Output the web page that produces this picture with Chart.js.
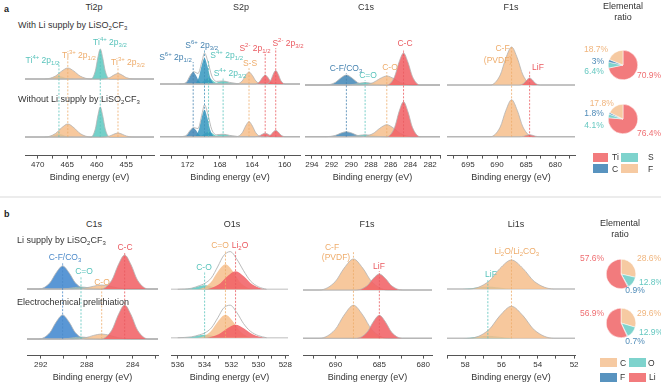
<!DOCTYPE html>
<html>
<head>
<meta charset="utf-8">
<script src="https://cdn.jsdelivr.net/npm/chart.js@4.4.1/dist/chart.umd.min.js"></script>
<style>
  body { margin: 0; width: 661px; height: 384px; position: relative; overflow: hidden; background: #fff;
         font-family: "Liberation Sans", Arial, sans-serif; color: #333; }
  canvas { position: absolute; }
  .tx { position: absolute; white-space: nowrap; line-height: 1; }
  .tx sub, .tx sup { font-size: 6px; line-height: 0; }
  .box { position: absolute; }
  .sep { position: absolute; left: 0; top: 196px; width: 661px; height: 2px; background: #ececec; }
</style>
</head>
<body>
<div class="sep"></div>
<script>
// ---------------- data (binding energy in eV, intensity in arbitrary counts) ----------------
// a: with / without Li supply by LiSO2CF3
const ti2pRange = [450.3, 472.15];
const ti2pPeaks = ['Ti4+ 2p1/2', 'Ti3+ 2p1/2', 'Ti4+ 2p3/2', 'Ti3+ 2p3/2'];
const ti2pEnergy = [
  [469.0, 467.8, 467.1, 466.4, 465.7, 465.0, 463.8],
  [468.8, 467.0, 465.95, 464.9, 463.85, 462.8, 461.0],
  [460.96, 460.24, 459.82, 459.4, 458.98, 458.56, 457.84],
  [459.0, 457.8, 457.1, 456.4, 455.7, 455.0, 453.8]
];
const ti2pWith = [[0,0.8,2.1,3,2.1,0.8,0],[0,2.9,7.8,11,7.8,2.9,0],[0,8,21,30,21,8,0],[0,1.4,3.9,5.5,3.9,1.4,0]];
const ti2pWithout = [[0,0.8,2.1,3,2.1,0.8,0],[0,3.4,9.2,13,9.2,3.4,0],[0,8,21,30,21,8,0],[0,1,2.8,4,2.8,1,0]];

const s2pRange = [158.1, 175.4];
const s2pPeaks = ['S4+ 2p1/2', 'S4+ 2p3/2', 'S6+ 2p1/2', 'S6+ 2p3/2', 'S-S', 'S2- 2p1/2', 'S2- 2p3/2'];
const s2pEnergy = [
  [170.96, 170.24, 169.82, 169.4, 168.98, 168.56, 167.84],
  [169.68, 168.72, 168.16, 167.6, 167.04, 166.48, 165.52],
  [172.6, 172.0, 171.65, 171.3, 170.95, 170.6, 170.0],
  [171.2, 170.6, 170.25, 169.9, 169.55, 169.2, 168.6],
  [165.96, 165.24, 164.82, 164.4, 163.98, 163.56, 162.84],
  [163.7, 163.1, 162.75, 162.4, 162.05, 161.7, 161.1],
  [162.27, 161.73, 161.42, 161.1, 160.78, 160.47, 159.93]
];
const s2pWith = [[0,1.6,4.3,6,4.3,1.6,0],[0,0.8,2.1,3,2.1,0.8,0],[0,3.1,8.5,12,8.5,3.1,0],[0,6.8,18.5,26,18.5,6.8,0],
                 [0,3.1,8.5,12,8.5,3.1,0],[0,2.3,6.4,9,6.4,2.3,0],[0,3.5,9.6,13.5,9.6,3.5,0]];
const s2pWithout = [[0,1.3,3.6,5,3.6,1.3,0],[0,0.7,1.8,2.5,1.8,0.7,0],[0,2.3,6.4,9,6.4,2.3,0],[0,7,19.2,27,19.2,7,0],
                    [0,3.9,10.7,15,10.7,3.9,0],[0,0.9,2.5,3.5,2.5,0.9,0],[0,1.7,4.6,6.5,4.6,1.7,0]];
const s2pEnvE = [173.0, 172.2, 171.6, 171.2, 170.7, 170.2, 169.9, 169.5, 169.0, 168.4, 167.6, 166.8, 165.6];
const s2pEnvWith = [0, 1.2, 9.4, 12.2, 10.5, 23, 31, 23, 8, 2.6, 3, 1.6, 0];
const s2pEnvWithout = [0, 1, 7, 9, 8.1, 23, 32, 23, 7, 2, 2.5, 1.3, 0];

const c1sARange = [281, 294.7];
const c1sAPeaks = ['C-F/CO3', 'C=O', 'C-O', 'C-C'];
const c1sAEnergy = [
  [292.58, 291.62, 291.06, 290.5, 289.94, 289.38, 288.42],
  [290.68, 289.72, 289.16, 288.6, 288.04, 287.48, 286.52],
  [289.0, 287.8, 287.1, 286.4, 285.7, 285.0, 283.8],
  [286.39, 285.61, 285.16, 284.7, 284.25, 283.79, 283.01]
];
const c1sAWith = [[0,2.6,7.1,10,7.1,2.6,0],[0,0.7,1.8,2.5,1.8,0.7,0],[0,2.3,6.4,9,6.4,2.3,0],[0,8.3,22.7,32,22.7,8.3,0]];
const c1sAWithout = [[0,1.3,3.6,5,3.6,1.3,0],[0,0.5,1.4,2,1.4,0.5,0],[0,3.1,8.5,12,8.5,3.1,0],[0,9.1,24.9,35,24.9,9.1,0]];

const f1sARange = [676.6, 698.6];
const f1sAPeaks = ['C-F (PVDF)', 'LiF'];
const f1sAEnergy = [
  [691.14, 689.46, 688.48, 687.5, 686.52, 685.54, 683.86],
  [686.22, 685.38, 684.89, 684.4, 683.91, 683.42, 682.58]
];
const f1sAWith = [[0,9.9,27,38,27,9.9,0],[0,1.8,5,7,5,1.8,0]];
const f1sAWithout = [[0,9.6,26.3,37,26.3,9.6,0],[0,0.5,1.4,2,1.4,0.5,0]];

const pieAElements = ['Ti', 'S', 'C', 'F'];
const pieAWith = [70.9, 6.4, 3, 18.7];
const pieAWithout = [76.4, 4.1, 1.8, 17.8];

// b: Li supply by LiSO2CF3 / electrochemical prelithiation
const c1sBRange = [281.8, 293.2];
const c1sBPeaks = ['C-F/CO3', 'C=O', 'C-O', 'C-C'];
const c1sBEnergy = [
  [292.18, 291.22, 290.66, 290.1, 289.54, 288.98, 288.02],
  [290.58, 289.62, 289.06, 288.5, 287.94, 287.38, 286.42],
  [289.3, 288.1, 287.4, 286.7, 286.0, 285.3, 284.1],
  [286.78, 285.82, 285.26, 284.7, 284.14, 283.58, 282.62]
];
const c1sBSupply = [[0,6,16.3,23,16.3,6,0],[0,0.5,1.4,2,1.4,0.5,0],[0,1,2.8,4,2.8,1,0],[0,8.8,24.1,34,24.1,8.8,0]];
const c1sBEchem = [[0,6.2,17,24,17,6.2,0],[0,0.5,1.4,2,1.4,0.5,0],[0,1.3,3.6,5,3.6,1.3,0],[0,8.8,24.1,34,24.1,8.8,0]];

const o1sRange = [527.8, 536.5];
const o1sPeaks = ['C-O', 'C=O', 'Li2O'];
const o1sEnergy = [
  [535.82, 534.98, 534.49, 534.0, 533.51, 533.02, 532.18],
  [534.53, 533.57, 533.01, 532.45, 531.89, 531.33, 530.37],
  [534.04, 532.96, 532.33, 531.7, 531.07, 530.44, 529.36]
];
const o1sSupply = [[0,1,2.8,4,2.8,1,0],[0,6.5,17.8,25,17.8,6.5,0],[0,4.7,12.8,18,12.8,4.7,0]];
const o1sEchem = [[0,0.8,2.1,3,2.1,0.8,0],[0,6,16.3,23,16.3,6,0],[0,3.4,9.2,13,9.2,3.4,0]];
const o1sEnvE = [536.0, 535.0, 534.4, 534.0, 533.5, 533.0, 532.6, 532.1, 531.6, 531.1, 530.6, 530.0, 529.4];
const o1sEnvSupply = [0, 1, 3.6, 5.8, 11.4, 23.3, 33.4, 37.7, 30, 18.5, 8.5, 2.5, 0];
const o1sEnvEchem = [0, 0.8, 2.8, 4.7, 9.8, 20.4, 29.5, 32.5, 25, 14, 6.5, 2, 0];

const f1sBRange = [679, 693.7];
const f1sBPeaks = ['C-F (PVDF)', 'LiF'];
const f1sBEnergy = [
  [691.85, 690.05, 689.0, 687.95, 686.9, 685.85, 684.05],
  [687.6, 686.4, 685.7, 685.0, 684.3, 683.6, 682.4]
];
const f1sBSupply = [[0,8.1,22,31,22,8.1,0],[0,4.2,11.4,16,11.4,4.2,0]];
const f1sBEchem = [[0,8.6,23.4,33,23.4,8.6,0],[0,6,16.3,23,16.3,6,0]];

const li1sRange = [51.95, 59];
const li1sPeaks = ['LiF', 'Li2O/Li2CO3'];
const li1sEnergy = [
  [58.57, 57.73, 57.24, 56.75, 56.26, 55.77, 54.93],
  [57.79, 56.71, 56.08, 55.45, 54.82, 54.19, 53.11]
];
const li1sSupply = [[0,0.6,1.8,2.5,1.8,0.6,0],[0,7.5,20.6,29,20.6,7.5,0]];
const li1sEchem = [[0,0.6,1.8,2.5,1.8,0.6,0],[0,8.3,22.7,32,22.7,8.3,0]];

const pieBElements = ['C', 'O', 'F', 'Li'];
const pieBSupply = [28.6, 12.8, 0.9, 57.6];
const pieBEchem = [29.6, 12.9, 0.7, 56.9];

// ---------------- styles ----------------
Chart.defaults.font.family = '"Liberation Sans", Arial, sans-serif';
Chart.defaults.color = '#333';

const FILL = { teal: 'rgba(92,200,192,0.85)', orange: 'rgba(246,190,140,0.85)', red: 'rgba(241,98,102,0.88)',
               blue: 'rgba(70,138,184,0.88)', blueS: 'rgba(52,150,190,0.85)', blueB: 'rgba(72,140,208,0.9)' };
const LINE = { teal: '#58c3bb', orange: '#eeac6b', red: '#ea5a60', blue: '#4683b0', blueS: '#3d8fb8', blueB: '#4b89c9' };
const GRAY = '#b3b3b3';

function spectrum(p) {
  const cv = document.createElement('canvas');
  cv.width = p.w; cv.height = p.h;
  cv.style.left = p.left + 'px'; cv.style.top = p.y + 'px';
  document.body.appendChild(cv);
  const [xmin, xmax] = p.range;
  const ds = [];
  [[p.offTop, p.upper, p.envUpper], [p.offBot, p.lower, p.envLower]].forEach(([off, H, env]) => {
    ds.push({ data: [{x: xmax, y: off}, {x: xmin, y: off}], borderColor: '#d3d3d3', borderWidth: 1.6, fill: false, order: 100 });
    p.energy.forEach((E, i) => {
      const pts = [{x: xmax, y: off}];
      E.forEach((e, k) => pts.push({x: e, y: off + H[i][k]}));
      pts.push({x: xmin, y: off});
      ds.push({ data: pts, fill: {value: off}, backgroundColor: FILL[p.colors[i]],
                borderColor: p.outline[i] ? GRAY : 'rgba(0,0,0,0)', borderWidth: p.outline[i] ? 0.8 : 0, order: 60 - i });
    });
    if (env) ds.push({ data: p.envE.map((e, k) => ({x: e, y: off + env[k]})), borderColor: GRAY, borderWidth: 0.9, fill: false, order: 20 });
  });
  p.energy.forEach((E, i) => {
    ds.push({ data: [{x: E[3], y: p.offBot}, {x: E[3], y: p.dash[i]}], borderColor: LINE[p.colors[i]],
              borderWidth: 0.8, borderDash: [2, 1.5], fill: false, order: 5 });
  });
  new Chart(cv, {
    type: 'line',
    data: { datasets: ds },
    options: {
      responsive: false, animation: false, devicePixelRatio: 1, events: [],
      layout: { padding: { left: 10, right: 10, top: 0, bottom: 0 } },
      elements: { point: { radius: 0 }, line: { cubicInterpolationMode: 'monotone' } },
      plugins: { legend: { display: false }, tooltip: { enabled: false } },
      scales: {
        x: {
          type: 'linear', reverse: true, min: xmin, max: xmax,
          border: { display: true, color: '#555', width: 1 },
          grid: { drawOnChartArea: false, drawTicks: true, tickLength: 3, color: '#555' },
          ticks: { stepSize: p.step, includeBounds: false, autoSkip: false, maxRotation: 0, padding: 1.5,
                   font: { size: 8 }, color: '#333',
                   callback: v => Math.abs(v / p.major - Math.round(v / p.major)) < 1e-6 ? String(v) : '' },
          title: { display: true, text: 'Binding energy (eV)', font: { size: 9 }, color: '#333', padding: { top: 1, bottom: 1 } }
        },
        y: { display: false, min: 0, max: p.h - 28.4 }
      }
    }
  });
}

const panels = [
  { range: ti2pRange, energy: ti2pEnergy, upper: ti2pWith, lower: ti2pWithout,
    colors: ['teal', 'orange', 'teal', 'orange'], outline: [false, true, true, true],
    left: 15, y: 34, w: 149, h: 150, offTop: 76.6, offBot: 18.6, step: 2.5, major: 5, dash: [93.6, 98.6, 106.6, 89.6] },
  { range: s2pRange, energy: s2pEnergy, upper: s2pWith, lower: s2pWithout,
    envE: s2pEnvE, envUpper: s2pEnvWith, envLower: s2pEnvWithout,
    colors: ['teal', 'teal', 'blue', 'blueS', 'orange', 'red', 'red'], outline: [false, false, false, false, true, true, true],
    left: 150, y: 34, w: 160, h: 150, offTop: 71.6, offBot: 18.9, step: 2, major: 4, dash: [95.6, 78.6, 93.6, 105.6, 87.6, 103.6, 107.6] },
  { range: c1sARange, energy: c1sAEnergy, upper: c1sAWith, lower: c1sAWithout,
    colors: ['blue', 'teal', 'orange', 'red'], outline: [true, true, true, true],
    left: 295, y: 34, w: 155, h: 150, offTop: 70.6, offBot: 18.9, step: 1, major: 2, dash: [82.6, 75.6, 83.6, 106.6] },
  { range: f1sARange, energy: f1sAEnergy, upper: f1sAWith, lower: f1sAWithout,
    colors: ['orange', 'red'], outline: [true, true],
    left: 437, y: 34, w: 148, h: 150, offTop: 70.6, offBot: 18.9, step: 2.5, major: 5, dash: [108.6, 84.6] },
  { range: c1sBRange, energy: c1sBEnergy, upper: c1sBSupply, lower: c1sBEchem,
    colors: ['blueB', 'teal', 'orange', 'red'], outline: [true, true, true, true],
    left: 17, y: 240, w: 151, h: 144, offTop: 66.6, offBot: 16.6, step: 2, major: 4, dash: [93.6, 79.6, 69.6, 103.6] },
  { range: o1sRange, energy: o1sEnergy, upper: o1sSupply, lower: o1sEchem,
    envE: o1sEnvE, envUpper: o1sEnvSupply, envLower: o1sEnvEchem,
    colors: ['teal', 'orange', 'red'], outline: [false, false, false],
    left: 161, y: 240, w: 137, h: 144, offTop: 66.3, offBot: 17.9, step: 1, major: 2, dash: [84.6, 105.6, 105.6] },
  { range: f1sBRange, energy: f1sBEnergy, upper: f1sBSupply, lower: f1sBEchem,
    colors: ['orange', 'red'], outline: [true, true],
    left: 293, y: 240, w: 149, h: 144, offTop: 65.6, offBot: 17.3, step: 2.5, major: 5, dash: [103.6, 84.6] },
  { range: li1sRange, energy: li1sEnergy, upper: li1sSupply, lower: li1sEchem,
    colors: ['teal', 'orange'], outline: [false, true],
    left: 437, y: 240, w: 148, h: 144, offTop: 66.6, offBot: 17.3, step: 1, major: 2, dash: [76.6, 100.6] }
];
panels.forEach(spectrum);

// ---------------- pies ----------------
const pieAColors = ['#f27b7d', '#7ed3cd', '#5893bf', '#f6caa2'];
const pieBColors = ['#f6caa2', '#7ed3cd', '#5893bf', '#f27b7d'];
const PIE_TXT = { red: '#ef6f72', teal: '#66c8c1', blue: '#4f8bb8', orange: '#f0b57e' };

function pie(values, colors, labels, cx, cy) {
  const cv = document.createElement('canvas');
  cv.width = 30; cv.height = 30;
  cv.style.left = (cx - 15) + 'px'; cv.style.top = (cy - 15) + 'px';
  document.body.appendChild(cv);
  new Chart(cv, {
    type: 'pie',
    data: { labels: labels, datasets: [{ data: values, backgroundColor: colors, borderColor: '#fff', borderWidth: 0.5 }] },
    options: { responsive: false, animation: false, devicePixelRatio: 1, events: [],
               plugins: { legend: { display: false }, tooltip: { enabled: false } } }
  });
}
pie(pieAWith, pieAColors, pieAElements, 622.5, 64.5);
pie(pieAWithout, pieAColors, pieAElements, 622.5, 119);
pie(pieBSupply, pieBColors, pieBElements, 621.3, 274.2);
pie(pieBEchem, pieBColors, pieBElements, 621.3, 322.5);

// ---------------- text ----------------
function put(html, x, y, color, size, left, bold) {
  const d = document.createElement('div');
  d.className = 'tx';
  d.innerHTML = html;
  d.style.left = x + 'px'; d.style.top = y + 'px';
  d.style.color = color; d.style.fontSize = size + 'px';
  if (bold) d.style.fontWeight = 'bold';
  d.style.transform = left ? 'translate(0,-50%)' : 'translate(-50%,-50%)';
  document.body.appendChild(d);
}
const D = '#333';
put('a', 4, 9, '#222', 9, true, true);
put('b', 4, 214, '#222', 9, true, true);
[['Ti2p', 94, 7], ['S2p', 241, 7], ['C1s', 366, 7], ['F1s', 511, 7], ['Elemental', 623, 6], ['ratio', 623, 17],
 ['C1s', 94, 224], ['O1s', 232, 224], ['F1s', 367, 224], ['Li1s', 516, 224], ['Elemental', 620, 222.5], ['ratio', 620, 233.5]]
  .forEach(t => put(t[0], t[1], t[2], D, 9));
put('With Li supply by LiSO<sub>2</sub>CF<sub>3</sub>', 18, 25, D, 9, true);
put('Without Li supply by LiSO<sub>2</sub>CF<sub>3</sub>', 18, 99, D, 9, true);
put('Li supply by LiSO<sub>2</sub>CF<sub>3</sub>', 17, 240, D, 9, true);
put('Electrochemical prelithiation', 17, 302, D, 9, true);

const peakLabels = [
  ['Ti<sup>4+</sup> 2p<sub>1/2</sub>', 42.5, 60, 'teal'], ['Ti<sup>3+</sup> 2p<sub>1/2</sub>', 79, 55, 'orange'],
  ['Ti<sup>4+</sup> 2p<sub>3/2</sub>', 110, 42, 'teal'], ['Ti<sup>3+</sup> 2p<sub>3/2</sub>', 128, 62, 'orange'],
  ['S<sup>6+</sup> 2p<sub>3/2</sub>', 201.7, 45, 'blue'], ['S<sup>6+</sup> 2p<sub>1/2</sub>', 175.5, 56.7, 'blue'],
  ['S<sup>4+</sup> 2p<sub>1/2</sub>', 226.7, 55, 'teal'], ['S<sup>4+</sup> 2p<sub>3/2</sub>', 230, 72.7, 'teal'],
  ['S-S', 250, 63.3, 'orange'], ['S<sup>2-</sup> 2p<sub>1/2</sub>', 255, 48.3, 'red'], ['S<sup>2-</sup> 2p<sub>3/2</sub>', 288, 43.3, 'red'],
  ['C-F/CO<sub>3</sub>', 346, 68, 'blue'], ['C=O', 368, 75, 'teal'], ['C-O', 390, 67, 'orange'], ['C-C', 405, 43, 'red'],
  ['C-F', 502.5, 48, 'orange'], ['(PVDF)', 498, 60, 'orange'], ['LiF', 538, 67, 'red'],
  ['C-F/CO<sub>3</sub>', 65, 256.7, 'blueB'], ['C=O', 84, 271, 'teal'], ['C-O', 102, 281.7, 'orange'], ['C-C', 125, 246.7, 'red'],
  ['C-O', 204, 267, 'teal'], ['C=O', 220, 245, 'orange'], ['Li<sub>2</sub>O', 240, 245, 'red'],
  ['C-F', 332, 246.7, 'orange'], ['(PVDF)', 336, 256.7, 'orange'], ['LiF', 379, 265.7, 'red'],
  ['Li<sub>2</sub>O/Li<sub>2</sub>CO<sub>3</sub>', 516.7, 251, 'orange'], ['LiF', 491, 274.3, 'teal']
];
peakLabels.forEach(l => put(l[0], l[1], l[2], LINE[l[3]], 8.5));

// pie value labels, in element order of each pie
const pieLabelPos = [
  [pieAWith,    [[649, 75, 'red'], [594, 71, 'teal'], [598, 61, 'blue'], [596, 49, 'orange']]],
  [pieAWithout, [[649, 133, 'red'], [594, 125, 'teal'], [594, 113.3, 'blue'], [601.7, 103.3, 'orange']]],
  [pieBSupply,  [[649, 258, 'orange'], [651, 282, 'teal'], [635, 290, 'blue'], [592, 258, 'red']]],
  [pieBEchem,   [[649, 313, 'orange'], [651, 331.7, 'teal'], [635, 340.7, 'blue'], [592, 313, 'red']]]
];
pieLabelPos.forEach(([vals, pos]) => vals.forEach((v, i) => put(v + '%', pos[i][0], pos[i][1], PIE_TXT[pos[i][2]], 8.5)));

// legends
function box(x, y, w, h, c) {
  const d = document.createElement('div');
  d.className = 'box';
  Object.assign(d.style, { left: x + 'px', top: y + 'px', width: w + 'px', height: h + 'px', background: c });
  document.body.appendChild(d);
}
box(593, 152.5, 15, 9, pieAColors[0]); put(pieAElements[0], 612, 157, D, 8.5, true);
box(621, 152.5, 17, 9, pieAColors[1]); put(pieAElements[1], 648, 157, D, 8.5, true);
box(593, 164, 15, 9, pieAColors[2]); put(pieAElements[2], 612, 168.5, D, 8.5, true);
box(621, 164, 17, 9, pieAColors[3]); put(pieAElements[3], 648, 168.5, D, 8.5, true);
box(600, 358, 17, 9, pieBColors[0]); put(pieBElements[0], 620, 362.5, D, 8.5, true);
box(629, 358, 17, 9, pieBColors[1]); put(pieBElements[1], 648, 362.5, D, 8.5, true);
box(600, 372.5, 17, 9, pieBColors[2]); put(pieBElements[2], 620, 377, D, 8.5, true);
box(629, 372.5, 17, 9, pieBColors[3]); put(pieBElements[3], 649, 377, D, 8.5, true);
</script>
</body>
</html>
